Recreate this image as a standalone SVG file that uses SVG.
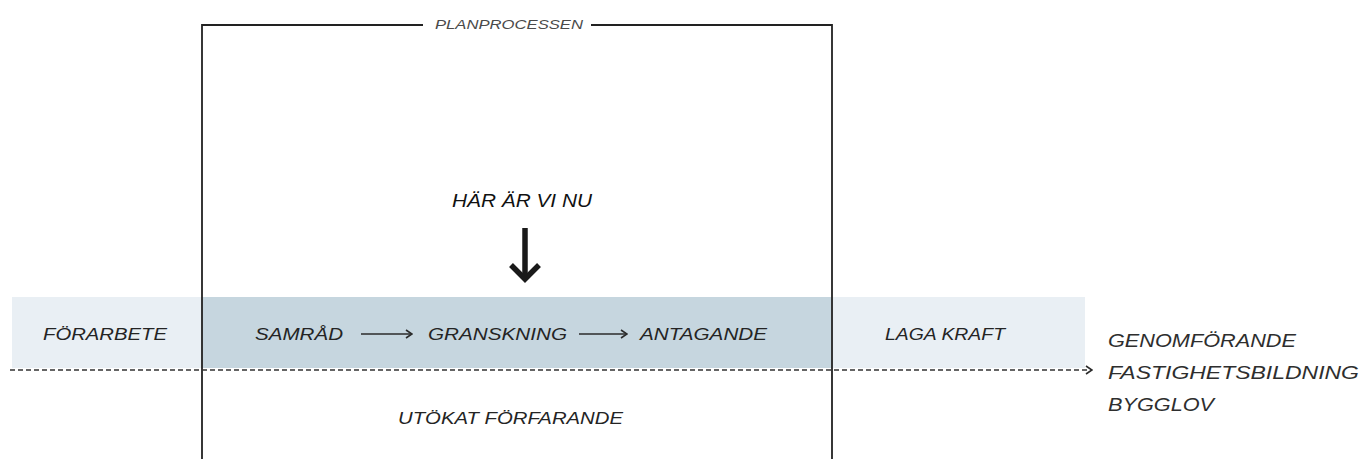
<svg xmlns="http://www.w3.org/2000/svg" width="1363" height="459" viewBox="0 0 1363 459">
  <style>
    .lbl { font-family: "Liberation Sans", Arial, sans-serif; font-style: italic; font-size: 17px; fill: #242424; }
    .big { font-family: "Liberation Sans", Arial, sans-serif; font-style: italic; font-size: 18px; fill: #2e2e2e; }
    .here { font-family: "Liberation Sans", Arial, sans-serif; font-style: italic; font-size: 19px; fill: #111111; }
    .small { font-family: "Liberation Sans", Arial, sans-serif; font-style: italic; font-size: 12px; fill: #4a4a4a; }
    .frame { stroke: #222222; stroke-width: 1.8; fill: none; }
    .conn { stroke: #2b2b2b; stroke-width: 1.6; fill: none; }
    .dash { stroke: #333333; stroke-width: 1.6; stroke-dasharray: 5 3; fill: none; }
  </style>
  <defs>
    <marker id="open" viewBox="0 0 10 10" refX="9" refY="5" markerWidth="10" markerHeight="10" markerUnits="userSpaceOnUse" orient="auto">
      <polyline points="3,1 9,5 3,9" fill="none" stroke="#2b2b2b" stroke-width="1.6"/>
    </marker>
  </defs>
  <rect width="1363" height="459" fill="#ffffff"/>

  <g id="band-light">
    <rect x="12" y="297" width="1073" height="71" fill="#e9eff4"/>
  </g>
  <g id="band-dark">
    <rect x="202" y="297" width="629" height="71" fill="#c6d6df"/>
  </g>

  <g id="frame-planprocessen">
    <polyline class="frame" points="423,25 202,25 202,459"/>
    <polyline class="frame" points="591,25 832,25 832,459"/>
    <text class="small" x="435" y="29" textLength="148" lengthAdjust="spacingAndGlyphs">PLANPROCESSEN</text>
  </g>

  <g id="here">
    <text class="here" x="452" y="207" textLength="140" lengthAdjust="spacingAndGlyphs">HÄR ÄR VI NU</text>
    <line x1="525" y1="228" x2="525" y2="277" stroke="#1a1a1a" stroke-width="5.5"/>
    <polyline points="511,265 525,279 539,265" fill="none" stroke="#1a1a1a" stroke-width="5.5" stroke-linejoin="miter"/>
  </g>

  <g id="forarbete"><text class="lbl" x="43" y="340" textLength="124" lengthAdjust="spacingAndGlyphs">FÖRARBETE</text></g>
  <g id="samrad"><text class="lbl" x="255" y="340" textLength="88" lengthAdjust="spacingAndGlyphs">SAMRÅD</text></g>
  <g id="granskning"><text class="lbl" x="428" y="340" textLength="139" lengthAdjust="spacingAndGlyphs">GRANSKNING</text></g>
  <g id="antagande"><text class="lbl" x="640" y="340" textLength="127" lengthAdjust="spacingAndGlyphs">ANTAGANDE</text></g>
  <g id="laga-kraft"><text class="lbl" x="885" y="340" textLength="120" lengthAdjust="spacingAndGlyphs">LAGA KRAFT</text></g>
  <g id="utokat"><text class="lbl" x="398" y="424" textLength="225" lengthAdjust="spacingAndGlyphs">UTÖKAT FÖRFARANDE</text></g>
  <g id="genomforande">
    <text class="big" x="1108" y="347" textLength="188" lengthAdjust="spacingAndGlyphs">GENOMFÖRANDE</text>
    <text class="big" x="1108" y="379" textLength="251" lengthAdjust="spacingAndGlyphs">FASTIGHETSBILDNING</text>
    <text class="big" x="1108" y="411" textLength="106" lengthAdjust="spacingAndGlyphs">BYGGLOV</text>
  </g>

  <g id="connectors">
    <line class="conn" x1="361" y1="334" x2="412" y2="334" marker-end="url(#open)"/>
    <line class="conn" x1="579" y1="334" x2="627" y2="334" marker-end="url(#open)"/>
    <line class="dash" x1="10" y1="370" x2="1092" y2="370" marker-end="url(#open)"/>
  </g>
</svg>
